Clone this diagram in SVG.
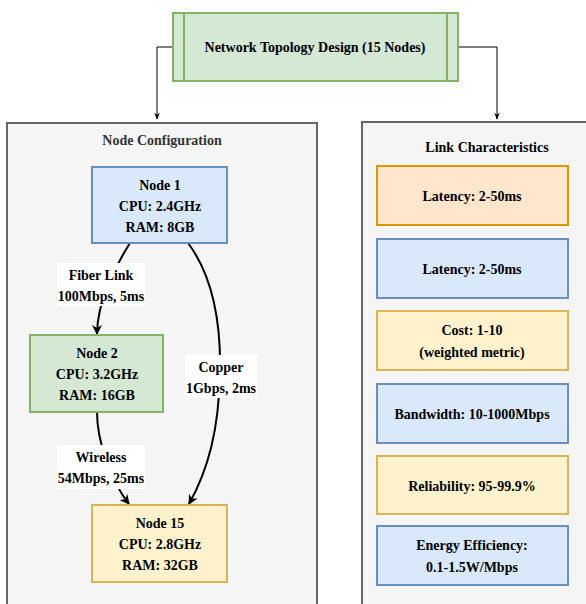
<svg xmlns="http://www.w3.org/2000/svg" width="586" height="604" viewBox="0 0 586 604">
<style>
text{font-family:"Liberation Serif","Times New Roman",serif;font-weight:bold;font-size:14px;fill:#000;text-anchor:middle;dominant-baseline:central}
.ct{fill:#333}
.cont{fill:#f5f5f5;stroke:#666;stroke-width:2}
.green{fill:#d5e8d4;stroke:#82b366;stroke-width:2}
.blue{fill:#dae8fc;stroke:#6c8ebf;stroke-width:2}
.yellow{fill:#fff2cc;stroke:#d6b656;stroke-width:2}
.orange{fill:#ffe6cc;stroke:#d79b00;stroke-width:2}
.edge{fill:none;stroke:#000;stroke-width:2}
.thin{fill:none;stroke:#000;stroke-width:1}
.lbl{fill:#fff;stroke:none}
</style>
<defs>
<marker id="ah" viewBox="0 0 10 10" refX="9" refY="5" markerWidth="5" markerHeight="5" orient="auto" markerUnits="strokeWidth"><path d="M0,0 L10,5 L0,10 L3,5 Z" fill="#000"/></marker>
<marker id="ahs" viewBox="0 0 10 10" refX="9" refY="5" markerWidth="7" markerHeight="7" orient="auto" markerUnits="strokeWidth"><path d="M0,1 L10,5 L0,9 L3,5 Z" fill="#000"/></marker>
</defs>
<g id="container-node-config">
<rect class="cont" x="7" y="123" width="310" height="490"/>
<text class="ct" x="162" y="140">Node Configuration</text>
</g>
<g id="container-link-char">
<rect class="cont" x="362" y="122" width="240" height="490"/>
<text x="487" y="147">Link Characteristics</text>
</g>
<g id="connectors">
<path class="thin" d="M173,47 H157 V119" marker-end="url(#ahs)"/>
<path class="thin" d="M458,47 H497 V119" marker-end="url(#ahs)"/>
<path class="edge" d="M130,243 C118,262 97,300 97,334" marker-end="url(#ah)"/>
<path class="edge" d="M97,412 C97,440 110,480 129,504" marker-end="url(#ah)"/>
<path class="edge" d="M188,243 C212,275 221,320 220,372 C219,430 208,470 189,504" marker-end="url(#ah)"/>
<rect class="lbl" x="57" y="263" width="88" height="43"/>
<text x="101" y="275">Fiber Link</text>
<text x="101" y="296">100Mbps, 5ms</text>
<rect class="lbl" x="185" y="355" width="72" height="43"/>
<text x="221" y="367">Copper</text>
<text x="221" y="388">1Gbps, 2ms</text>
<rect class="lbl" x="57" y="445" width="88" height="44"/>
<text x="101" y="457">Wireless</text>
<text x="101" y="478">54Mbps, 25ms</text>
</g>
<g id="title">
<rect class="green" x="173" y="13" width="285" height="68"/>
<line x1="184" y1="13" x2="184" y2="81" stroke="#82b366" stroke-width="2"/>
<line x1="447" y1="13" x2="447" y2="81" stroke="#82b366" stroke-width="2"/>
<text x="315" y="47">Network Topology Design (15 Nodes)</text>
</g>
<g id="node1">
<rect class="blue" x="92" y="167" width="135" height="76"/>
<text x="160" y="185">Node 1</text>
<text x="160" y="206">CPU: 2.4GHz</text>
<text x="160" y="227">RAM: 8GB</text>
</g>
<g id="node2">
<rect class="green" x="30" y="335" width="133" height="77"/>
<text x="97" y="353">Node 2</text>
<text x="97" y="374">CPU: 3.2GHz</text>
<text x="97" y="395">RAM: 16GB</text>
</g>
<g id="node15">
<rect class="yellow" x="92" y="505" width="135" height="77"/>
<text x="160" y="523">Node 15</text>
<text x="160" y="544">CPU: 2.8GHz</text>
<text x="160" y="565">RAM: 32GB</text>
</g>
<g id="latency1">
<rect class="orange" x="377" y="166" width="191" height="59"/>
<text x="472" y="196">Latency: 2-50ms</text>
</g>
<g id="latency2">
<rect class="blue" x="377" y="239" width="191" height="59"/>
<text x="472" y="269">Latency: 2-50ms</text>
</g>
<g id="cost">
<rect class="yellow" x="377" y="311" width="191" height="59"/>
<text x="472" y="330">Cost: 1-10</text>
<text x="472" y="352">(weighted metric)</text>
</g>
<g id="bandwidth">
<rect class="blue" x="377" y="384" width="191" height="59"/>
<text x="472" y="414">Bandwidth: 10-1000Mbps</text>
</g>
<g id="reliability">
<rect class="yellow" x="377" y="456" width="191" height="58"/>
<text x="472" y="486">Reliability: 95-99.9%</text>
</g>
<g id="energy">
<rect class="blue" x="377" y="526" width="191" height="59"/>
<text x="472" y="545">Energy Efficiency:</text>
<text x="472" y="567">0.1-1.5W/Mbps</text>
</g>
</svg>
